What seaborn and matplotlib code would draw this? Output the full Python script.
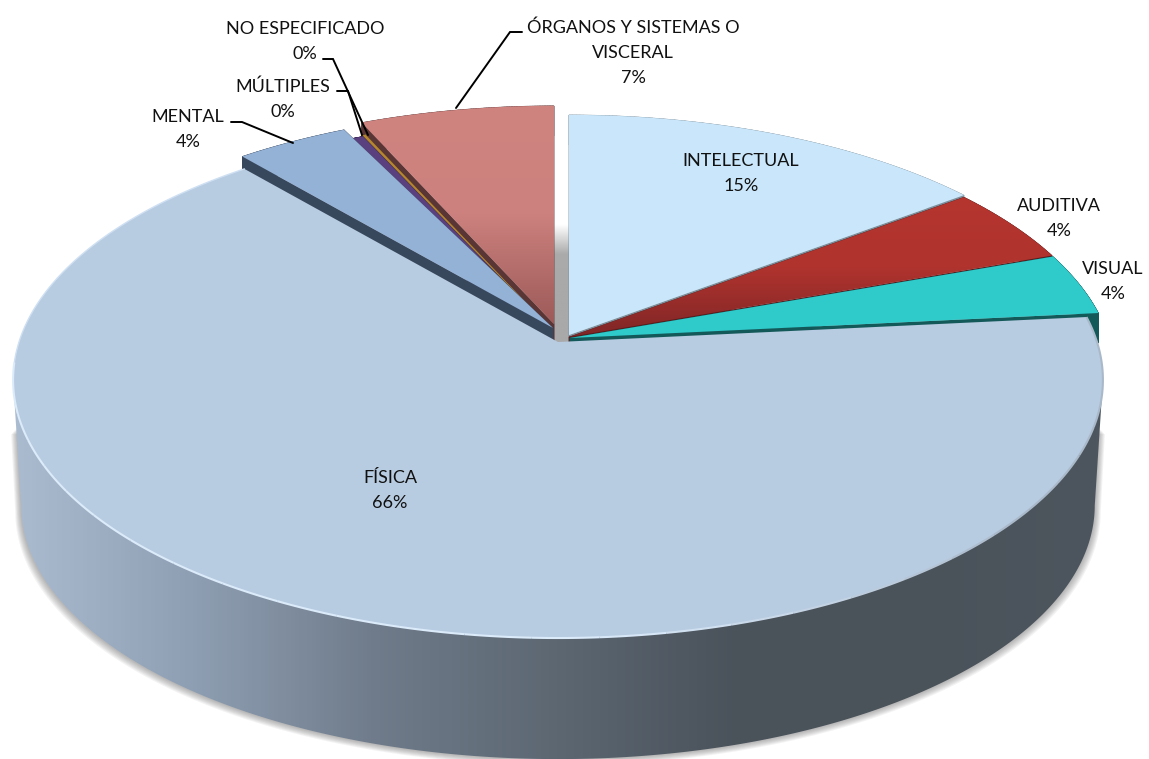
import numpy as np
import matplotlib
matplotlib.use("Agg")
import matplotlib.pyplot as plt
from matplotlib.patches import Polygon
import seaborn as sns

# datos del grafico (sentido horario desde las 12)
categories = ["INTELECTUAL", "AUDITIVA", "VISUAL", "FÍSICA", "MENTAL",
              "MÚLTIPLES", "NO ESPECIFICADO", "ÓRGANOS Y SISTEMAS O\nVISCERAL"]
values = [14.7, 4.8, 3.9, 65.4, 3.9, 0.5, 0.1, 6.7]
pct_labels = ["15%", "4%", "4%", "66%", "4%", "0%", "0%", "7%"]

# estilo de cada porcion, mismo orden
apex_x = [569, 569, 570, 558, 553, 552, 552, 554]
apex_y = [335, 337, 338, 342, 328, 331, 330, 324]
radius = [1.0, 1.0, 1.0, 1.0, 0.99, 0.955, 0.955, 0.99]
side_colors = ["#7C8F9B", "#5A1C1C", "#14595A", "#3A4A5E", "#37475C", "#2E2148", "#8A6A30", "#5A3535"]
top_colors = [["#C9E6FA"], ["#B5352F", "#B0332E", "#7F2626"], ["#2FCACA"], ["#B7CBE1"],
              ["#94B1D6"], ["#5B4080"], ["#B8862E"], ["#D08480", "#CC817E", "#9C5A58"]]
label_xy = [(741, 173.5), (1059, 218.5), (1113, 281.5), (390, 490.5), (188, 129.5),
            (283, 99.5), (305, 41.5), (633, 52.5)]

RX, RY, K = 539, 252.5, 0.147
DROP, LOW_SX, LOW_SY = 126, 0.985, 0.91
SLICE_DEPTH = 30  # las porciones de atras casi no muestran costado
SILH = 8.5  # grados bajo la horizontal donde el borde es silueta

sns.set_theme(style="white")
plt.rcParams["font.family"] = ["Lato", "DejaVu Sans"]

fig = plt.figure(figsize=(11.49, 7.59), dpi=100)
ax = fig.add_axes([0, 0, 1, 1])


def project(theta, ax0, ay0, r=1.0, low=False):
    # circulo del plano -> pantalla con perspectiva
    t = np.radians(theta)
    u, v = r * np.cos(t), r * np.sin(t)
    w = 1 + K * v
    sx = LOW_SX if low else 1.0
    sy = LOW_SY if low else 1.0
    d = DROP if low else 0.0
    return ax0 + sx * RX * u / w, ay0 - sy * RY * v / w + d / w


def grad_fill(poly_xy, colors, extent, horizontal=False, zorder=1):
    cmap = sns.blend_palette(colors, as_cmap=True)
    ramp = np.linspace(0, 1, 256)
    ramp = ramp[None, :] if horizontal else ramp[:, None]
    im = ax.imshow(ramp, cmap=cmap, extent=extent, aspect="auto", origin="upper",
                   vmin=0, vmax=1, zorder=zorder, interpolation="bilinear")
    patch = Polygon(poly_xy, closed=True, transform=ax.transData)
    im.set_clip_path(patch)


# angulos de cada porcion
frac = np.array(values) / np.sum(values)
ends = 90 - 360 * np.cumsum(frac)
starts = np.r_[90, ends[:-1]]

# costado visible de la base, de silueta a silueta
i = 3
arc = np.linspace(180 + SILH, 360 - SILH, 400)
upx, upy = project(arc, apex_x[i], apex_y[i])
lowx, lowy = project(arc, apex_x[i], apex_y[i], low=True)

# sombra bajo la base, sube un poco por los lados
shx = np.r_[0.5 * (upx[0] + lowx[0]), lowx, 0.5 * (upx[-1] + lowx[-1])]
shy = np.r_[0.62 * upy[0] + 0.38 * lowy[0], lowy, 0.62 * upy[-1] + 0.38 * lowy[-1]]
for grow in range(7, 0, -1):
    ax.fill(apex_x[i] + (shx - apex_x[i]) * (1 + grow * 0.0016), shy + grow * 0.9,
            color="#555555", alpha=0.07, lw=0, zorder=1)

# hueco gris entre organos e intelectual
gap = [(apex_x[7], 195), (apex_x[0], 195), (apex_x[0], apex_y[3]), (apex_x[7], apex_y[3])]
grad_fill(gap, ["#FFFFFF", "#FFFFFF", "#ABABAB", "#A9A9A9", "#A9A9A9", "#A9A9A9"],
          (apex_x[7], apex_x[0], apex_y[3], 195), zorder=1.5)

# porciones de atras, del lado hacia el frente
order = [7, 6, 5, 4, 0, 1, 2]
for z, j in enumerate(order):
    th = np.linspace(starts[j], ends[j], 120)
    x, y = project(th, apex_x[j], apex_y[j], radius[j])
    top = np.c_[np.r_[apex_x[j], x], np.r_[apex_y[j], y]]
    low = top + [0, SLICE_DEPTH]
    zz = 2 + z * 0.1
    # caras laterales
    for a, b in zip(range(len(top)), list(range(1, len(top))) + [0]):
        quad = [top[a], top[b], low[b], low[a]]
        ax.add_patch(Polygon(quad, closed=True, color=side_colors[j], lw=0.3, zorder=zz))
    if len(top_colors[j]) > 1:
        grad_fill(top, top_colors[j], (0, 1149, apex_y[j], y.min()), zorder=zz + 0.05)
    else:
        ax.add_patch(Polygon(top, closed=True, color=top_colors[j][0], lw=0, zorder=zz + 0.05))

# costado de la porcion principal
side = np.c_[np.r_[upx, lowx[::-1]], np.r_[upy, lowy[::-1]]]
grad_fill(side, ["#AABBD0", "#8E9EB2", "#6F7B8A", "#5C6772", "#4A525A", "#4A525A", "#4D565E"],
          (13, 1102, 759, 300), horizontal=True, zorder=4)

# cara superior
th = np.linspace(starts[i], ends[i], 500)
x, y = project(th, apex_x[i], apex_y[i])
top = np.c_[np.r_[apex_x[i], x], np.r_[apex_y[i], y]]
ax.add_patch(Polygon(top, closed=True, color=top_colors[i][0], lw=0, zorder=5))
back = (th < -175)
ax.plot(x[back], y[back], color="#CFE0F3", lw=1.0, zorder=5.1)

# brillo del borde, se apaga hacia la derecha
edge_idx = np.where(th >= -175)[0]
chunks = np.array_split(edge_idx, 30)
rim_cols = sns.blend_palette(["#A9B9CA", "#A9B9CA", "#DCEBFA", "#DCEBFA", "#DCEBFA"], 30)
for ch, col in zip(chunks, rim_cols):
    ch = np.r_[ch, min(ch[-1] + 1, len(th) - 1)]
    ax.plot(x[ch], y[ch], color=col, lw=1.5, zorder=5.1, solid_capstyle="butt")

# lineas guia
guides = [[(456, 108), (510, 32), (522, 32)],
          [(323, 59), (333, 59), (368, 135)],
          [(337, 91), (348, 91), (362, 135)],
          [(231, 122), (242, 122), (293, 143)]]
for g in guides:
    g = np.array(g)
    ax.plot(g[:, 0], g[:, 1], color="black", lw=1.4, zorder=6, solid_joinstyle="miter")

for name, pct, (tx, ty) in zip(categories, pct_labels, label_xy):
    ax.text(tx, ty, name + "\n" + pct, ha="center", va="center", fontsize=13.0,
            color="#111111", linespacing=1.7, zorder=7)

ax.set_xlim(0, 1149)
ax.set_ylim(759, 0)
ax.axis("off")
fig.savefig("out.png", dpi=100, facecolor="white")
